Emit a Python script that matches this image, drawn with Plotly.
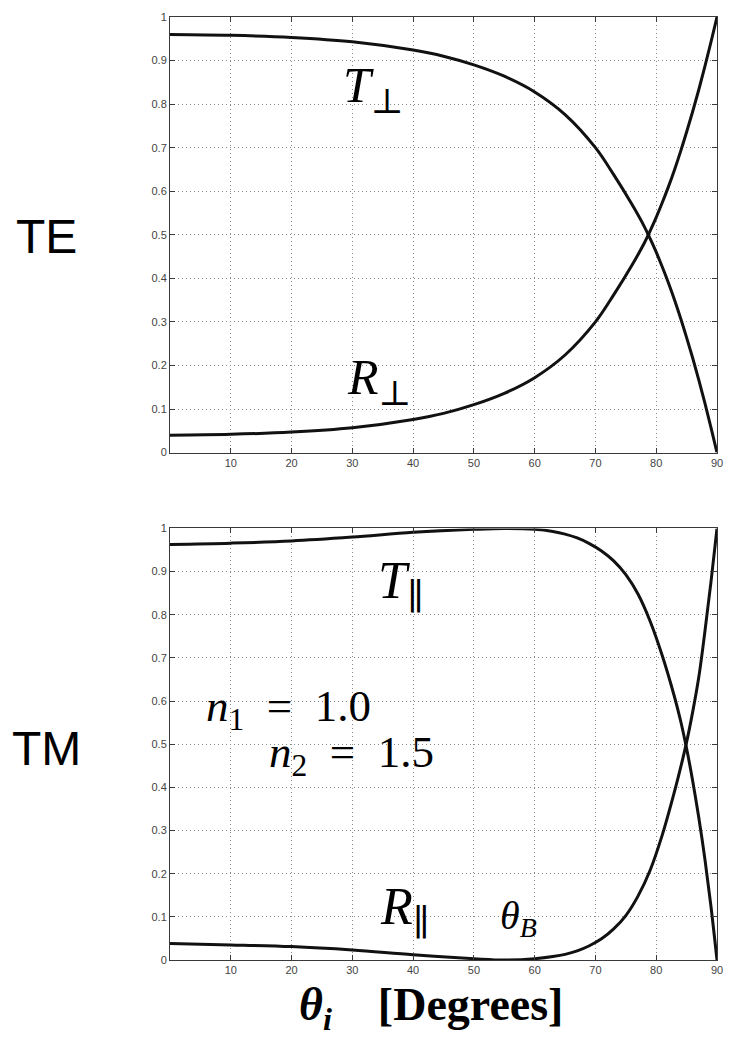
import plotly.graph_objects as go

# Incidence angles (degrees) and TE power coefficients
angle_te = [0, 10, 20, 30, 40, 45, 50, 55, 60, 65, 70, 73, 76, 78, 79, 80, 81, 82, 83, 84, 85,
            86, 87, 88, 89, 90]
t_perp = [0.960, 0.958, 0.953, 0.943, 0.924, 0.910, 0.890, 0.864, 0.828, 0.776, 0.700, 0.638,
          0.570, 0.520, 0.491, 0.460, 0.426, 0.390, 0.351, 0.309, 0.264, 0.217, 0.167, 0.114,
          0.058, 0.0]
r_perp = [0.040, 0.042, 0.047, 0.057, 0.076, 0.090, 0.110, 0.136, 0.172, 0.224, 0.300, 0.362,
          0.430, 0.480, 0.509, 0.540, 0.574, 0.610, 0.649, 0.691, 0.736, 0.783, 0.833, 0.886,
          0.942, 1.0]

# Incidence angles (degrees) and TM power coefficients
angle_tm = [0, 10, 20, 30, 40, 50, 55, 60, 63, 65, 67, 69, 71, 73, 75, 77, 79, 81, 83, 84, 85,
            86, 87, 88, 89, 90]
t_par = [0.963, 0.966, 0.971, 0.980, 0.991, 0.998, 1.0, 0.998, 0.993, 0.987, 0.978, 0.965, 0.948,
         0.925, 0.893, 0.848, 0.785, 0.705, 0.610, 0.555, 0.490, 0.415, 0.330, 0.235, 0.125, 0.0]
r_par = [0.038, 0.035, 0.031, 0.023, 0.012, 0.003, 0.0, 0.003, 0.008, 0.013, 0.021, 0.033, 0.049,
         0.072, 0.103, 0.148, 0.208, 0.290, 0.390, 0.445, 0.505, 0.575, 0.655, 0.760, 0.875, 1.0]

x_ticks = [10, 20, 30, 40, 50, 60, 70, 80, 90]
y_ticks = [0, 0.1, 0.2, 0.3, 0.4, 0.5, 0.6, 0.7, 0.8, 0.9, 1]
y_tick_text = ["0", "0.1", "0.2", "0.3", "0.4", "0.5", "0.6", "0.7", "0.8", "0.9", "1"]

LINE = dict(color="#111111", width=3, shape="spline", smoothing=1.0)
MATH_FONT = "Liberation Serif, DejaVu Serif, serif"

fig = go.Figure()
fig.add_trace(go.Scatter(x=angle_te, y=t_perp, mode="lines", line=LINE, xaxis="x", yaxis="y"))
fig.add_trace(go.Scatter(x=angle_te, y=r_perp, mode="lines", line=LINE, xaxis="x", yaxis="y"))
fig.add_trace(go.Scatter(x=angle_tm, y=t_par, mode="lines", line=LINE, xaxis="x2", yaxis="y2"))
fig.add_trace(go.Scatter(x=angle_tm, y=r_par, mode="lines", line=LINE, xaxis="x2", yaxis="y2"))

axis_common = dict(
    showline=True, linecolor="#3a3a3a", linewidth=1, mirror="allticks",
    ticks="inside", ticklen=5, tickcolor="#3a3a3a",
    showgrid=True, gridcolor="#8a8a8a", griddash="1px,3px", gridwidth=1,
    zeroline=False, tickfont=dict(family="Liberation Sans, Arial, sans-serif", size=11, color="#444444"),
)

fig.update_layout(
    width=734, height=1044,
    margin=dict(l=170, r=11, t=16, b=84),
    paper_bgcolor="white", plot_bgcolor="white",
    showlegend=False,
    xaxis=dict(domain=[0, 1], range=[0, 90], anchor="y", tickvals=x_ticks, **axis_common),
    yaxis=dict(domain=[0.5381, 1], range=[0, 1], anchor="x", tickvals=y_ticks,
               ticktext=y_tick_text, **axis_common),
    xaxis2=dict(domain=[0, 1], range=[0, 90], anchor="y2", tickvals=x_ticks, **axis_common),
    yaxis2=dict(domain=[0, 0.4576], range=[0, 1], anchor="x2", tickvals=y_ticks,
                ticktext=y_tick_text, **axis_common),
)

def math_label(text, x, y, xref, yref, size):
    fig.add_annotation(text=text, x=x, y=y, xref=xref, yref=yref, showarrow=False,
                       xanchor="center", yanchor="middle",
                       font=dict(family=MATH_FONT, size=size, color="black"))

SP = "\u2002"  # en space around the equals sign
math_label("<i>T</i><sub>⊥</sub>", 33.4, 0.835, "x", "y", 50)
math_label("<i>R</i><sub>⊥</sub>", 34.4, 0.165, "x", "y", 50)
math_label("<i>T</i><sub>∥</sub>", 38.0, 0.870, "x2", "y2", 52)
math_label("<i>R</i><sub>∥</sub>", 38.6, 0.115, "x2", "y2", 52)
math_label("<i>θ</i><sub><i>B</i></sub>", 57.3, 0.097, "x2", "y2", 40)
math_label("<i>n</i><sub>1</sub>" + SP + "=" + SP + "1.0", 19.5, 0.582, "x2", "y2", 45)
math_label("<i>n</i><sub>2</sub>" + SP + "=" + SP + "1.5", 29.8, 0.476, "x2", "y2", 45)

# Side labels for the two polarisations
for label, ypos in [("TE", 0.767), ("TM", 0.224)]:
    fig.add_annotation(text=label, x=-0.225, y=ypos, xref="paper", yref="paper",
                       showarrow=False, xanchor="center", yanchor="middle",
                       font=dict(family="Liberation Sans, Arial, sans-serif", size=48, color="black"))

# Shared horizontal axis title
fig.add_annotation(text="<b><i>θ</i><sub><i>i</i></sub>\u2003[Degrees]</b>",
                   x=0.478, y=-0.051, xref="paper", yref="paper", showarrow=False,
                   xanchor="center", yanchor="middle",
                   font=dict(family=MATH_FONT, size=46, color="black"))

fig.write_html("out.html")
